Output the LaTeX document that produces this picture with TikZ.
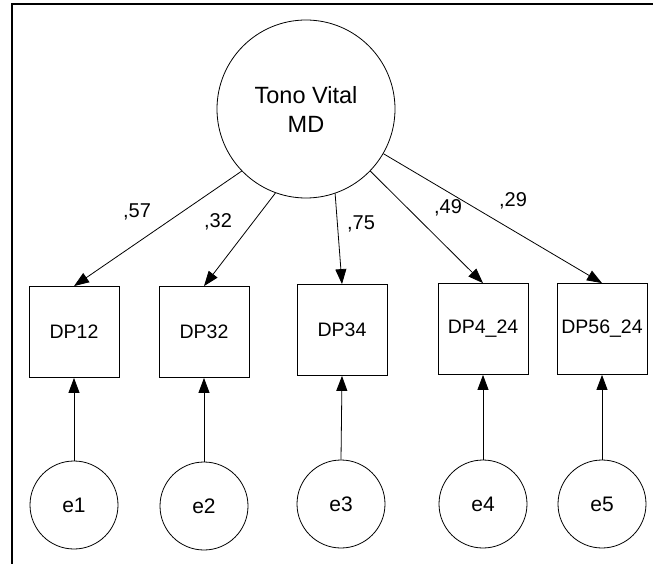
\documentclass[tikz,border=0pt]{standalone}
\usepackage{fontspec}
\setmainfont{Liberation Sans}
\usetikzlibrary{arrows.meta}
\tikzset{
  parrow/.style={-{Triangle[length=15pt,width=11pt]}, line width=0.8pt},
  latvar/.style={circle, draw, line width=0.8pt, minimum size=178pt, inner sep=0pt, align=center,
    font=\fontsize{23.5}{29}\selectfont},
  obsvar/.style={rectangle, draw, line width=0.8pt, minimum width=90pt, minimum height=91pt, inner sep=0pt,
    font=\fontsize{19.5}{23}\selectfont},
  errvar/.style={circle, draw, line width=0.8pt, minimum size=88pt, inner sep=0pt,
    font=\fontsize{21}{25}\selectfont},
  wlabel/.style={inner sep=0pt, font=\fontsize{20}{24}\selectfont}
}
\begin{document}
\begin{tikzpicture}[x=1pt, y=-1pt]
    \useasboundingbox (0,0) rectangle (653,564);
    \draw[line width=2pt] (12,564) -- (12,4) -- (653,4);
    \node[latvar] (lat) at (306,109) {Tono Vital\\MD};
    \node[obsvar] (dp12) at (74,332) {DP12};
    \node[obsvar] (dp32) at (204,332) {DP32};
    \node[obsvar] (dp34) at (342,330) {DP34};
    \node[obsvar] (dp424) at (483,329) {DP4\_24};
    \node[obsvar] (dp5624) at (602,329) {DP56\_24};
    \node[errvar] (e1) at (74,505) {e1};
    \node[errvar] (e2) at (204,506) {e2};
    \node[errvar] (e3) at (341,504) {e3};
    \node[errvar] (e4) at (483,504) {e4};
    \node[errvar] (e5) at (602,504) {e5};
    \draw[parrow] (lat.224) -- (dp12.north);
    \draw[parrow] (lat.250) -- (dp32.north);
    \draw[parrow] (lat.289) -- (dp34.north);
    \draw[parrow] (lat.316) -- (dp424.north);
    \draw[parrow] (lat.330) -- (dp5624.north);
    \draw[parrow] (e1.north) -- (dp12.south);
    \draw[parrow] (e2.north) -- (dp32.south);
    \draw[parrow] (e3.north) -- (dp34.south);
    \draw[parrow] (e4.north) -- (dp424.south);
    \draw[parrow] (e5.north) -- (dp5624.south);
    \node[wlabel] (l57) at (137,212) {,57};
    \node[wlabel] (l32) at (218,222) {,32};
    \node[wlabel] (l75) at (361,224) {,75};
    \node[wlabel] (l49) at (448,208) {,49};
    \node[wlabel] (l29) at (513,201) {,29};
  \end{tikzpicture}
\end{document}
